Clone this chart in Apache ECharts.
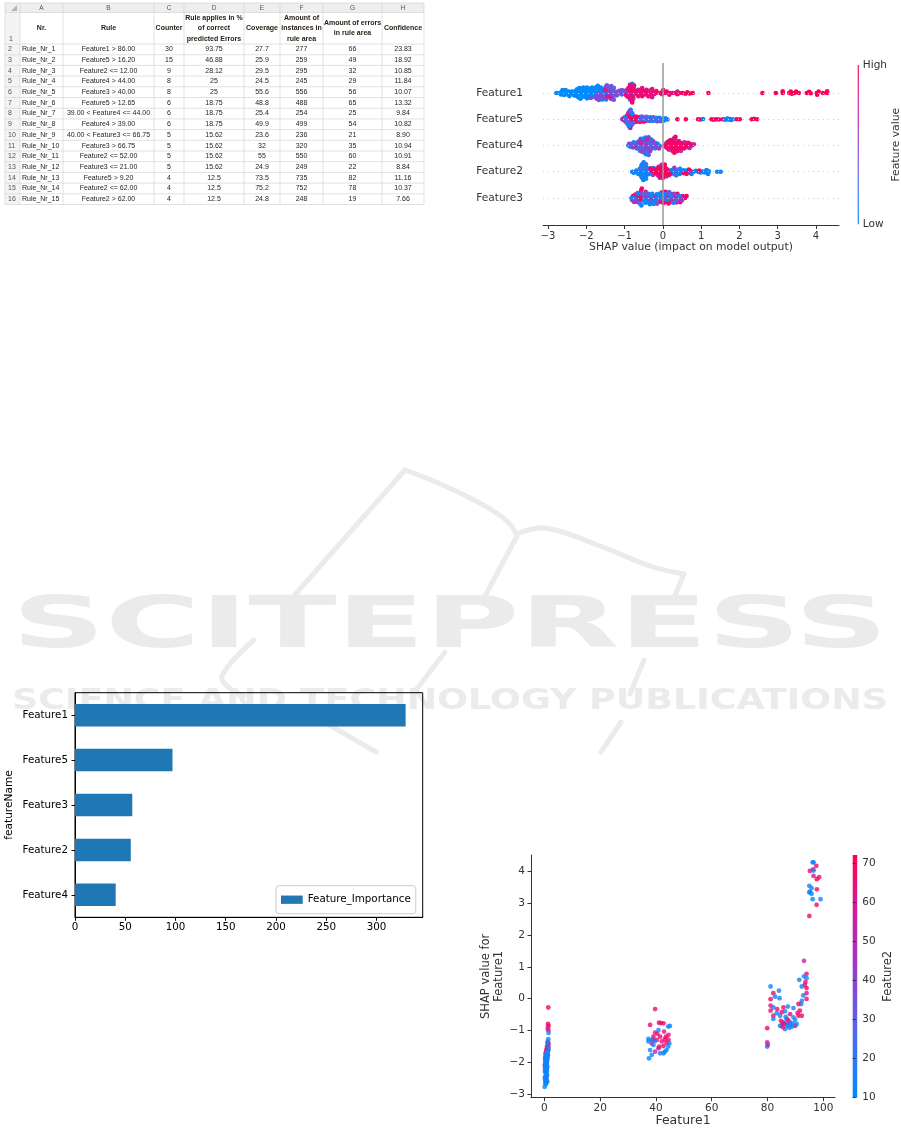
<!DOCTYPE html>
<html><head><meta charset="utf-8">
<script src="https://cdn.jsdelivr.net/npm/echarts@6/dist/echarts.min.js"></script>
<style>html,body{margin:0;padding:0;background:#fff}#c{width:901px;height:1129px}</style>
</head><body><div id="c"></div>
<script>
// ---------------- DATA ----------------
const tableColLetters = ['A','B','C','D','E','F','G','H'];
const tableHeader = ['Nr.','Rule','Counter','Rule applies in %\nof correct\npredicted Errors','Coverage','Amount of\ninstances in\nrule area','Amount of errors\nin rule area','Confidence'];
const tableRows = [
 ['Rule_Nr_1','Feature1 > 86.00','30','93.75','27.7','277','66','23.83'],
 ['Rule_Nr_2','Feature5 > 16.20','15','46.88','25.9','259','49','18.92'],
 ['Rule_Nr_3','Feature2 <= 12.00','9','28.12','29.5','295','32','10.85'],
 ['Rule_Nr_4','Feature4 > 44.00','8','25','24.5','245','29','11.84'],
 ['Rule_Nr_5','Feature3 > 40.00','8','25','55.6','556','56','10.07'],
 ['Rule_Nr_6','Feature5 > 12.65','6','18.75','48.8','488','65','13.32'],
 ['Rule_Nr_7','39.00 < Feature4 <= 44.00','6','18.75','25.4','254','25','9.84'],
 ['Rule_Nr_8','Feature4 > 39.00','6','18.75','49.9','499','54','10.82'],
 ['Rule_Nr_9','40.00 < Feature3 <= 66.75','5','15.62','23.6','236','21','8.90'],
 ['Rule_Nr_10','Feature3 > 66.75','5','15.62','32','320','35','10.94'],
 ['Rule_Nr_11','Feature2 <= 52.00','5','15.62','55','550','60','10.91'],
 ['Rule_Nr_12','Feature3 <= 21.00','5','15.62','24.9','249','22','8.84'],
 ['Rule_Nr_13','Feature5 > 9.20','4','12.5','73.5','735','82','11.16'],
 ['Rule_Nr_14','Feature2 <= 62.00','4','12.5','75.2','752','78','10.37'],
 ['Rule_Nr_15','Feature2 > 62.00','4','12.5','24.8','248','19','7.66']
];

const barCategories = ['Feature1','Feature5','Feature3','Feature2','Feature4'];
const barValues = [329, 97, 57, 55.5, 40.5];

// dependence plot: [Feature1 value, SHAP value for Feature1, Feature2 value]
const depData = [
 [1.4,-0.28,68],[1.3,-0.8,66],[1.5,-0.86,70],[1.2,-0.93,62],[1.4,-1.0,67],[1.1,-1.38,65],[1.5,-1.42,70],[1.2,-1.47,64],[0.9,-1.52,68],[1.4,-1.55,61],[1.0,-1.6,70],[1.3,-1.63,66],[0.8,-1.67,69],[1.1,-1.7,63],[0.6,-1.74,67],[1.2,-1.78,70],[0.7,-1.82,60],[1.0,-1.86,65],[0.5,-1.9,68],[0.9,-1.95,62],[0.4,-2.0,66],[0.8,-2.05,55],[0.3,-2.1,64],[0.6,-2.15,58],[0.5,-2.2,66],[1.3,-1.5,69],[1.0,-1.58,64],[0.7,-1.62,70],
 [0.3,-1.85,50],[0.5,-1.98,48],[0.2,-2.08,52],[0.6,-2.18,46],[0.4,-1.72,54],[0.7,-2.25,50],
 [1.5,-1.08,14],[1.4,-1.28,12],[1.3,-1.36,16],[1.2,-1.48,11],[1.5,-1.6,18],[1.0,-1.7,13],[0.8,-1.8,15],[1.1,-1.9,12],[0.6,-1.96,17],[0.9,-2.02,11],[0.4,-2.06,14],[0.7,-2.12,12],[0.2,-2.16,16],[0.5,-2.22,13],[0.9,-2.28,11],[0.3,-2.32,15],[0.6,-2.38,12],[1.0,-2.42,14],[0.4,-2.46,11],[0.8,-2.5,16],[0.2,-2.54,12],[0.6,-2.58,13],[1.0,-2.62,11],[0.5,-2.66,15],[0.9,-2.2,18],[0.1,-2.78,12],[0.7,-2.0,19],[0.3,-1.92,16],[1.2,-1.75,12],[0.8,-2.35,14],
 [0.4,-1.88,13],[0.6,-1.94,12],[0.9,-1.98,15],[0.3,-2.03,11],[0.7,-2.08,14],[0.5,-2.1,12],[1.1,-2.14,16],[0.4,-2.18,13],[0.8,-2.24,12],[0.2,-2.26,15],[0.6,-2.3,11],[0.9,-2.6,13],[0.3,-2.64,12],[0.7,-2.56,15],[0.5,-2.7,11],[0.2,-2.48,14],[1.1,-1.84,12],[0.5,-1.78,16],[0.9,-1.68,14],[0.6,-2.44,17],
 [39.7,-0.33,66],[37.9,-0.83,68],[41.1,-0.76,65],[41.8,-0.77,70],[42.7,-0.78,67],[39.7,-1.07,62],[39.1,-1.2,69],[40.5,-1.11,66],[41.5,-1.2,70],[42.9,-1.04,64],[43.6,-1.2,68],[44.5,-1.14,65],[40.3,-1.3,67],[42.1,-1.35,63],[43.2,-1.28,70],[44.5,-1.3,66],[41.2,-1.51,64],[42.7,-1.49,69],[40.9,-1.56,62],[39.7,-1.67,52],[43.8,-1.39,67],[38.5,-1.41,60],[39.1,-1.3,65],
 [44.4,-0.88,14],[45.0,-0.86,12],[40.9,-0.99,16],[37.3,-1.27,11],[38.5,-1.3,15],[37.3,-1.35,13],[39.1,-1.46,12],[37.9,-1.62,14],[38.5,-1.77,11],[37.5,-1.88,13],[42.7,-1.72,12],[43.2,-1.67,15],[43.8,-1.62,11],[44.4,-1.51,14],[44.8,-1.41,12],[41.5,-1.72,16],[39.7,-1.33,18],
 [93.1,1.19,55],[94.0,0.78,68],[94.0,0.64,14],[91.4,0.59,12],[93.1,0.7,15],[92.3,0.38,13],[93.4,0.43,64],[94.0,0.33,69],[94.0,0.17,62],[94.0,-0.01,67],[81.1,0.38,14],[84.1,0.25,16],[82.1,0.17,66],[82.7,0.06,12],[84.3,0.01,15],[81.1,-0.02,68],[92.3,-0.07,13],[92.1,-0.17,11],[91.1,-0.17,65],[81.1,-0.22,62],[82.1,-0.28,14],[85.7,-0.28,67],[87.3,-0.25,12],[89.3,-0.3,16],[91.6,-0.38,69],[81.1,-0.38,64],[82.1,-0.54,66],[83.3,-0.46,13],[84.5,-0.54,15],[85.1,-0.43,68],[86.3,-0.4,12],[88.1,-0.49,63],[89.3,-0.59,14],[91.1,-0.54,70],[92.3,-0.54,66],[82.1,-0.64,11],[86.9,-0.64,67],[85.7,-0.75,13],[86.9,-0.8,12],[85.1,-0.83,65],[88.1,-0.75,15],[89.9,-0.86,68],[88.7,-0.89,11],[86.3,-0.96,14],[87.5,-0.69,62],[84.5,-0.86,13],[89.9,-0.67,16],[79.9,-0.93,66],[79.9,-1.38,58],[79.9,-1.51,13],[80.1,-1.45,50],
 [87.0,-0.85,12],[88.2,-0.82,14],[86.0,-0.78,66],[89.0,-0.78,13],[85.5,-0.9,64],[90.5,-0.8,12],[87.8,-0.92,15],[84.8,-0.7,67],[86.5,-0.58,14],[83.5,-0.33,65],[90.8,-0.45,62],[92.8,0.1,14],[93.6,0.52,66],
 [96.2,4.29,14],[96.5,4.29,12],[97.5,4.18,68],[95.2,4.02,64],[96.4,4.07,66],[96.5,4.03,13],[96.5,3.86,62],[97.7,3.76,70],[98.5,3.82,65],[95.0,3.55,12],[95.8,3.48,15],[97.7,3.44,67],[95.0,3.34,13],[95.8,3.3,11],[95.2,3.37,14],[96.2,3.13,12],[99.0,3.13,16],[97.6,2.95,69],[95.0,2.6,66]
];

// summary rows: [feature value (0 low .. 1 high), [SHAP values]]
const f5Groups = [
 [0.5,[-1.06,-1.03,-1.0,-0.98,-0.96,-0.94,-0.92,-0.91,-0.9,-0.89,-0.88,-0.87,-0.86,-0.85,-0.84,-0.83,-0.82,-0.8,-0.78,-0.76,-0.74,-0.71,-0.89,-0.9,-0.88,-0.87,-0.93,-0.85,-0.81,-0.97]],
 [0.7,[-1.04,-1.0,-0.97,-0.94,-0.92,-0.9,-0.89,-0.88,-0.87,-0.86,-0.85,-0.84,-0.83,-0.81,-0.79,-0.77,-0.75,-0.72,-0.7,-0.68,-0.65,-0.62,-0.6,-0.58,-0.55,-0.52,-0.48,-0.91,-0.86,-0.8]],
 [0.95,[-0.95,-0.91,-0.86,-0.82,-0.78,-0.74,-0.7,-0.66,-0.63,-0.6,-0.57,-0.54,-0.5,-0.47,-0.44,-0.4,-0.64,-0.56,-0.46,-0.3,-0.15,0.05,0.38,0.6,0.92,0.99,1.27,1.33,1.4,1.47,1.57,1.92,2.01,2.32,2.38,2.46]],
 [0.05,[-0.99,-0.93,-0.88,-0.84,-0.8,-0.45,-0.42,-0.38,-0.35,-0.33,-0.3,-0.28,-0.25,-0.22,-0.2,-0.17,-0.14,-0.12,-0.1,-0.07,-0.04,-0.02,0.0,0.03,0.07,0.12,-0.36,-0.26,-0.19,-0.09,1.05,1.62,1.66,1.69,1.72,1.75,1.78,1.82]],
 [0.3,[-0.95,-0.9,-0.85,-0.81,-0.77,-0.55,-0.5,-0.36,-0.27,-0.18,-0.09,-0.61,-0.43]]
];
const f4Groups = [
 [0.05,[-0.9,-0.85,-0.8,-0.76,-0.72,-0.68,-0.65,-0.62,-0.6,-0.58,-0.55,-0.52,-0.5,-0.48,-0.46,-0.44,-0.42,-0.4,-0.38,-0.36,-0.34,-0.32,-0.3,-0.27,-0.24,-0.2,-0.16,-0.12,-0.08,-0.6,-0.5,-0.45,-0.4,-0.35,-0.53,-0.43,0.1,0.28]],
 [0.3,[-0.82,-0.74,-0.66,-0.61,-0.56,-0.51,-0.47,-0.43,-0.39,-0.35,-0.31,-0.26,-0.22,-0.14,-0.49,-0.37]],
 [0.5,[-0.88,-0.78,-0.7,-0.64,-0.59,-0.54,-0.49,-0.45,-0.41,-0.37,-0.33,-0.29,-0.25,-0.18,-0.1,0.16,0.26,0.33,0.41,0.47,0.54,0.62,0.68]],
 [0.7,[-0.57,-0.42,0.08,0.14,0.19,0.24,0.29,0.34,0.38,0.42,0.45,0.48,0.52,0.57,0.63,0.7,0.76,0.81,0.31,0.4]],
 [0.95,[0.05,0.09,0.12,0.15,0.18,0.2,0.22,0.25,0.27,0.3,0.32,0.35,0.37,0.4,0.43,0.46,0.5,0.55,0.6,0.66,0.72,0.2,0.3,0.36,0.24,0.33,0.28]]
];
const f2Groups = [
 [0.05,[-0.8,-0.76,-0.72,-0.69,-0.66,-0.64,-0.62,-0.6,-0.58,-0.57,-0.56,-0.55,-0.54,-0.53,-0.52,-0.51,-0.5,-0.49,-0.48,-0.47,-0.46,-0.45,-0.44,-0.43,-0.42,-0.41,-0.4,-0.38,-0.36,-0.33,-0.58,-0.55,-0.52,-0.5,-0.48,-0.56,-0.53,-0.47,-0.45,-0.3,-0.27,-0.24,0.17,0.2,0.23,0.26,0.29,0.32,0.35,0.38,0.41,0.44,0.47,0.5,0.54,0.58,0.62,0.66,0.7,0.75,0.8,0.25,0.35,0.45,0.86,0.92,0.98,1.03,1.08,1.12,1.14,1.16,1.18,1.2,1.42,1.51]],
 [0.2,[-0.6,-0.5,-0.44,-0.35,0.3,0.4]],
 [0.5,[-0.26,-0.13,-0.04,0.09,0.3,0.72]],
 [0.7,[-0.18,-0.15,-0.11,-0.07,-0.03,0.01,0.03,0.07,0.11,0.14,-0.08,-0.01,0.05]],
 [0.95,[-0.32,-0.28,-0.25,-0.22,-0.2,-0.17,-0.14,-0.12,-0.1,-0.08,-0.06,-0.04,-0.02,0.0,0.02,0.04,0.06,0.08,0.1,0.12,0.15,-0.1,-0.05,0.0,0.05,-0.03,0.03,0.19,0.55,0.62,0.68,0.95]]
];
const f3Groups = [
 [0.95,[-0.78,-0.72,-0.68,-0.64,-0.6,-0.57,-0.55,-0.52,-0.2,-0.05,-0.02,0.02,0.06,0.1,0.15,0.2,0.26,0.32,0.38,0.45,0.52,0.58,0.62,-0.58]],
 [0.7,[-0.75,-0.62,-0.45,-0.3,-0.1,0.0,0.08,0.14,0.22,0.28,0.35,0.42,0.48]],
 [0.5,[-0.8,-0.7,-0.66,-0.58,-0.5,-0.44,-0.4,-0.35,-0.26,-0.15,0.04,0.12,0.18,0.24,0.3,0.36,0.4,0.5]],
 [0.3,[-0.74,-0.6,-0.48,-0.38,-0.28,-0.18,-0.08,0.16,0.34]],
 [0.05,[-0.82,-0.66,-0.56,-0.5,-0.46,-0.42,-0.38,-0.34,-0.32,-0.28,-0.24,-0.2,-0.16,-0.12,-0.08,-0.04,0.0,0.04,0.1,0.2,0.27,0.44]]
];
const summaryFeatures = ['Feature1','Feature5','Feature4','Feature2','Feature3']; // top to bottom
const summaryXTicks = [-3,-2,-1,0,1,2,3,4];
const depXTicks = [0,20,40,60,80,100];
const depYTicks = [-3,-2,-1,0,1,2,3,4];
const depCbarTicks = [10,20,30,40,50,60,70];

// ---------------- LAYOUT / STYLE ----------------
const FF = "'DejaVu Sans', sans-serif";
const TF = "'Liberation Sans', Arial, sans-serif";
const shapColors = ['#008bfb','#3a73f2','#7652dc','#a632bd','#d71996','#ff0052'];
const TXT = '#333333';
const SUM = {left:543, top:63, width:296, height:162, xmin:-3.13, xmax:4.6, ymin:-1.03, ymax:5.14};

function gradientTopRed(){
  const n = shapColors.length;
  return new echarts.graphic.LinearGradient(0,0,0,1, shapColors.slice().reverse().map((c,i)=>({offset:i/(n-1), color:c})));
}

// beeswarm layout: dodge points along y (in pixel space), then normalise row height like shap (0.36 row units)
function swarm(vals){
  const pxX = SUM.width/(SUM.xmax-SUM.xmin);
  const d = 3.0;
  const N = vals.length;
  const xs = vals.map(v=>v*pxX);
  const order = vals.map((_,i)=>i).sort((a,b)=> (xs[a]-xs[b]) || (((a*37)%101)-((b*37)%101)));
  const placed = [];
  const ys = new Array(N).fill(0);
  for (const i of order){
    const nb = placed.filter(p => Math.abs(p.x-xs[i]) < d);
    const cands = [0];
    nb.forEach(p => { const h = Math.sqrt(d*d-(p.x-xs[i])**2); cands.push(p.y+h, p.y-h); });
    cands.sort((a,b)=> Math.abs(a)-Math.abs(b) || (((i%2)?1:-1)*(a-b)));
    let y = 0;
    for (const c of cands){
      if (nb.every(p => (p.x-xs[i])**2 + (p.y-c)**2 >= d*d - 1e-6)) { y = c; break; }
    }
    ys[i] = y; placed.push({x:xs[i], y});
  }
  const m = Math.max(1e-6, ...ys.map(Math.abs));
  return ys.map(y => y/m*0.36);
}

const f1Groups = depData.map(d => [Math.min(1, Math.max(0, (d[0]-0.2)/(97-0.2))), [d[1]]]);
const rowGroups = {Feature1:f1Groups, Feature5:f5Groups, Feature4:f4Groups, Feature2:f2Groups, Feature3:f3Groups};
const summaryData = [];
summaryFeatures.forEach((name, idx) => {
  const pos = summaryFeatures.length-1-idx;
  const pts = [];
  rowGroups[name].forEach(g => g[1].forEach(v => pts.push([v, g[0]])));
  const off = swarm(pts.map(p=>p[0]));
  pts.forEach((p,i) => summaryData.push([p[0], pos+off[i], p[1]]));
});

// ---------------- TABLE (graphic) ----------------
const colEdges = [5,20,63,154,184,244,280,323,382,424];
function tableGraphics(){
  const els = [];
  const L=colEdges[0], R=colEdges[colEdges.length-1], T=3, hB=12.5, r1B=44, rh=10.7, n=tableRows.length;
  const bottom = r1B + n*rh;
  els.push({type:'rect', shape:{x:L,y:T,width:R-L,height:hB-T}, style:{fill:'#eeeeee'}});
  els.push({type:'rect', shape:{x:L,y:hB,width:colEdges[1]-L,height:bottom-hB}, style:{fill:'#f4f4f4'}});
  els.push({type:'polygon', shape:{points:[[17,5],[17,11],[11,11]]}, style:{fill:'#b5b5b5'}});
  const hys=[T,hB,r1B]; for(let i=1;i<=n;i++) hys.push(r1B+i*rh);
  hys.forEach(y=>els.push({type:'line', shape:{x1:L,y1:y,x2:R,y2:y}, style:{stroke:'#d4d4d4',lineWidth:0.7}}));
  colEdges.forEach(x=>els.push({type:'line', shape:{x1:x,y1:T,x2:x,y2:bottom}, style:{stroke:'#d4d4d4',lineWidth:0.7}}));
  const txt = (s,x,y,o={}) => els.push({type:'text', x, y, style:Object.assign({text:s, fontSize:7, fontFamily:TF, fill:'#1e1e1e', textAlign:'center', align:'center', textVerticalAlign:'middle', verticalAlign:'middle'}, o)});
  tableColLetters.forEach((c,i)=> txt(c, (colEdges[i+1]+colEdges[i+2])/2, (T+hB)/2+0.5, {fill:'#555', fontSize:6.5}));
  txt('1', 9, r1B-5, {fill:'#555', textAlign:'left', align:'left'});
  tableHeader.forEach((h,i)=> txt(h, (colEdges[i+1]+colEdges[i+2])/2, (hB+r1B)/2, {fontWeight:'bold', lineHeight:10.4, fill:'#2a2118'}));
  tableRows.forEach((row,r)=>{
    const yc = r1B + r*rh + rh/2;
    txt(String(r+2), 8, yc, {fill:'#555', textAlign:'left', align:'left'});
    row.forEach((cell,i)=>{
      if(i===0) txt(cell, colEdges[1]+2, yc, {textAlign:'left', align:'left'});
      else txt(cell, (colEdges[i+1]+colEdges[i+2])/2, yc);
    });
  });
  return els;
}

// ---------------- WATERMARK (graphic) ----------------
function fitScale(text, font, target){
  const ctx = document.createElement('canvas').getContext('2d');
  ctx.font = font; return target/ctx.measureText(text).width;
}
function watermark(){
  const col = '#ebebeb';
  const els = [];
  const strokes = [
    [[405,470],[292,598]], [[254,640],[222,676],[232,690],[244,696]],
    [[405,470],[445,486],[485,506],[508,522],[517,536]],
    [[517,534],[545,528],[600,546],[650,566],[684,574]],
    [[684,574],[674,598]], [[517,536],[484,598]],
    [[445,652],[416,690]], [[644,660],[630,694]], [[621,722],[601,752]], [[324,722],[376,752]]
  ];
  strokes.forEach(p => els.push({type:'polyline', z:-10, shape:{points:p, smooth:p.length>2?0.4:0}, style:{stroke:col, lineWidth:5, fill:null, lineCap:'round'}}));
  const big = 'SCITEPRESS', small = 'SCIENCE AND TECHNOLOGY PUBLICATIONS';
  const fb = "bold 72px 'DejaVu Sans'", fs = "bold 29px 'DejaVu Sans'";
  els.push({type:'text', z:-9, x:450, y:628, scaleX:fitScale(big, fb, 876), style:{text:big, font:fb, fill:col, textAlign:'center', align:'center', textVerticalAlign:'middle', verticalAlign:'middle'}});
  els.push({type:'text', z:-9, x:450, y:701, scaleX:fitScale(small, fs, 876), style:{text:small, font:fs, fill:col, textAlign:'center', align:'center', textVerticalAlign:'middle', verticalAlign:'middle'}});
  return els;
}

const minus = v => v<0 ? '\u2212'+Math.abs(v) : String(v);

// ---------------- CHART ----------------
const chart = echarts.init(document.getElementById('c'), null, {renderer:'canvas'});
const option = {
  animation:false,
  backgroundColor:'#ffffff',
  textStyle:{fontFamily:FF},
  graphic:{elements: watermark().concat(tableGraphics())},
  grid:[
    {left:SUM.left, top:SUM.top, width:SUM.width, height:SUM.height},
    {left:75, top:692.7, width:347.7, height:224.6, show:true, borderColor:'#000', borderWidth:1, backgroundColor:'rgba(0,0,0,0)'},
    {left:531, top:855, width:304, height:242.7},
    {left:857.7, top:65, width:4.6, height:159.3, show:true, borderWidth:0, backgroundColor:gradientTopRed()},
    {left:852.7, top:855, width:4.5, height:242.7, show:true, borderWidth:0, backgroundColor:gradientTopRed()}
  ],
  xAxis:[
    {gridIndex:0, type:'value', min:SUM.xmin, max:SUM.xmax,
     axisLine:{show:true, onZero:false, lineStyle:{color:TXT, width:1}},
     axisTick:{show:true, length:4, customValues:summaryXTicks, lineStyle:{color:TXT}},
     axisLabel:{customValues:summaryXTicks, formatter:minus, fontSize:10, color:TXT, margin:6, fontFamily:FF},
     splitLine:{show:false},
     name:'SHAP value (impact on model output)', nameLocation:'middle', nameGap:15,
     nameTextStyle:{fontSize:10.8, color:TXT, fontFamily:FF}},
    {gridIndex:1, type:'value', min:0, max:346, interval:50,
     axisLine:{show:true, onZero:false, lineStyle:{color:'#000', width:1}},
     axisTick:{show:true, length:3.5, lineStyle:{color:'#000'}},
     axisLabel:{fontSize:10.3, color:'#000', margin:5, fontFamily:FF, showMaxLabel:false},
     splitLine:{show:false}},
    {gridIndex:2, type:'value', min:-4.8, max:104.2,
     axisLine:{show:true, onZero:false, lineStyle:{color:TXT, width:1}},
     axisTick:{show:true, length:3.5, customValues:depXTicks, lineStyle:{color:TXT}},
     axisLabel:{customValues:depXTicks, fontSize:10.5, color:TXT, margin:5, fontFamily:FF},
     splitLine:{show:false},
     name:'Feature1', nameLocation:'middle', nameGap:17, nameTextStyle:{fontSize:12.5, color:TXT, fontFamily:FF}},
    {gridIndex:3, type:'value', min:0, max:1, show:false},
    {gridIndex:4, type:'value', min:0, max:1, show:false}
  ],
  yAxis:[
    {gridIndex:0, type:'value', min:SUM.ymin, max:SUM.ymax,
     axisLine:{show:false}, axisTick:{show:false}, splitLine:{show:false},
     axisLabel:{customValues:[0,1,2,3,4], formatter:v=>summaryFeatures[summaryFeatures.length-1-Math.round(v)], fontSize:10.6, color:TXT, margin:20, fontFamily:FF}},
    {gridIndex:1, type:'category', data:barCategories, inverse:true,
     axisLine:{show:true, onZero:false, lineStyle:{color:'#000', width:1}},
     axisTick:{show:true, length:3.5, alignWithLabel:true, lineStyle:{color:'#000'}},
     axisLabel:{fontSize:10.3, color:'#000', margin:7, fontFamily:FF},
     name:'featureName', nameLocation:'middle', nameGap:60, nameRotate:90,
     nameTextStyle:{fontSize:10.6, color:'#000', fontFamily:FF}},
    {gridIndex:2, type:'value', min:-3.12, max:4.52,
     axisLine:{show:true, onZero:false, lineStyle:{color:TXT, width:1}},
     axisTick:{show:true, length:3.5, customValues:depYTicks, lineStyle:{color:TXT}},
     axisLabel:{customValues:depYTicks, formatter:minus, fontSize:10.5, color:TXT, margin:6, fontFamily:FF},
     splitLine:{show:false},
     name:'SHAP value for\nFeature1', nameLocation:'middle', nameGap:25, nameRotate:90,
     nameTextStyle:{fontSize:11.5, lineHeight:13, color:TXT, fontFamily:FF}},
    {gridIndex:3, type:'value', min:0, max:1, interval:1, position:'right',
     axisLine:{show:false}, axisTick:{show:false}, splitLine:{show:false},
     axisLabel:{formatter:v=> v>=1?'High':'Low', fontSize:10.5, color:TXT, margin:4, fontFamily:FF},
     name:'Feature value', nameLocation:'middle', nameGap:22, nameRotate:90,
     nameTextStyle:{fontSize:10.8, color:TXT, fontFamily:FF}},
    {gridIndex:4, type:'value', min:10, max:72, position:'right',
     axisLine:{show:false}, axisTick:{show:true, length:3, customValues:depCbarTicks, lineStyle:{color:TXT}}, splitLine:{show:false},
     axisLabel:{customValues:depCbarTicks, fontSize:10.5, color:TXT, margin:5, fontFamily:FF},
     name:'Feature2', nameLocation:'middle', nameGap:25, nameRotate:90,
     nameTextStyle:{fontSize:11.5, color:TXT, fontFamily:FF}}
  ],
  visualMap:[
    {type:'continuous', show:false, seriesIndex:0, dimension:2, min:0, max:1, inRange:{color:shapColors}},
    {type:'continuous', show:false, seriesIndex:2, dimension:2, min:10, max:72, inRange:{color:shapColors}}
  ],
  legend:{data:['Feature_Importance'], left:276, top:885.7, icon:'rect', itemWidth:21.7, itemHeight:8.3,
    borderColor:'#cccccc', borderWidth:1, borderRadius:3, padding:[9,5,9,5], backgroundColor:'#ffffff',
    textStyle:{fontSize:10.3, color:'#000', fontFamily:FF}},
  series:[
    {type:'scatter', xAxisIndex:0, yAxisIndex:0, data:summaryData, symbolSize:4.6, z:3,
     itemStyle:{opacity:1}, silent:true,
     markLine:{silent:true, symbol:'none', label:{show:false}, animation:false,
       data:[0,1,2,3,4].map(p=>({yAxis:p, lineStyle:{type:[1,4], color:'#cccccc', width:1}}))
         .concat([{xAxis:0, lineStyle:{type:'solid', color:'#999999', width:1.5}}])}},
    {type:'bar', name:'Feature_Importance', xAxisIndex:1, yAxisIndex:1, data:barValues, barWidth:'50%',
     itemStyle:{color:'#1f77b4'}, z:3},
    {type:'scatter', xAxisIndex:2, yAxisIndex:2, data:depData, symbolSize:4.8, z:3, silent:true}
  ]
};
chart.setOption(option);
</script></body></html>
